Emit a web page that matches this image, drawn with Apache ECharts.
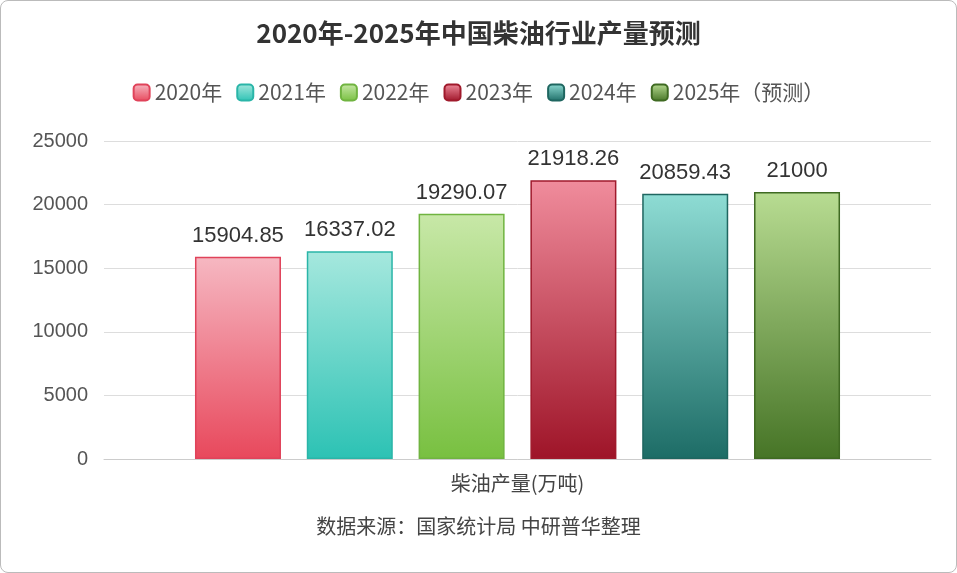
<!DOCTYPE html>
<html><head><meta charset="utf-8">
<script src="https://cdn.jsdelivr.net/npm/echarts@6/dist/echarts.min.js"></script>
<style>html,body{margin:0;padding:0;background:#fff}#c{width:955px;height:571px;border:1px solid #bbb;border-radius:8px;overflow:hidden}</style>
</head><body><div id="c"></div>
<script>
const categories=['柴油产量(万吨)'];
const seriesNames=['2020年','2021年','2022年','2023年','2024年','2025年（预测）'];
const values=[15904.85,16337.02,19290.07,21918.26,20859.43,21000];
const labels=['15904.85','16337.02','19290.07','21918.26','20859.43','21000'];
const colors=[['#f6b8c2','#e8485c','#e0435a'],['#a6e8de','#2cc2b4','#2ab5a8'],['#c8e8a8','#78c040','#70b440'],['#f08c9c','#9e1428','#a01a2c'],['#8edcd4','#1d6c66','#1f6660'],['#b8dc92','#467426','#3f6a22']];
const chart=echarts.init(document.getElementById('c'));
chart.setOption({
title:{text:'2020年-2025年中国柴油行业产量预测',left:'center',top:14,textStyle:{fontSize:26,fontWeight:'bold',color:'#333',fontFamily:'Noto Sans CJK SC'}},
legend:{top:76,itemWidth:16,itemHeight:16,itemGap:14,textStyle:{fontSize:21,color:'#555',fontFamily:'Noto Sans CJK SC'}},
grid:{left:103,right:25,top:140,bottom:113},
xAxis:{type:'category',data:categories,axisTick:{show:false},axisLine:{lineStyle:{color:'#ccc'}},axisLabel:{fontSize:20,color:'#444',margin:14,fontFamily:'Noto Sans CJK SC'}},
yAxis:{type:'value',min:0,max:25000,interval:5000,axisLabel:{fontSize:20,color:'#555',margin:16,formatter:v=>String(v)},splitLine:{lineStyle:{color:'#ddd'}}},
graphic:[{type:'text',left:'center',top:515,style:{text:'数据来源：国家统计局 中研普华整理',fontSize:20,fill:'#444',fontFamily:'Noto Sans CJK SC'}}],
series:seriesNames.map((n,i)=>({name:n,type:'bar',barGap:'30%',barCategoryGap:'22%',data:[values[i]],
itemStyle:{borderColor:colors[i][2],borderWidth:1.5,color:{type:'linear',x:0,y:0,x2:0,y2:1,colorStops:[{offset:0,color:colors[i][0]},{offset:1,color:colors[i][1]}]}},
label:{show:true,position:'top',distance:10,fontSize:22,color:'#333',formatter:()=>labels[i]}}))
});
</script></body></html>
